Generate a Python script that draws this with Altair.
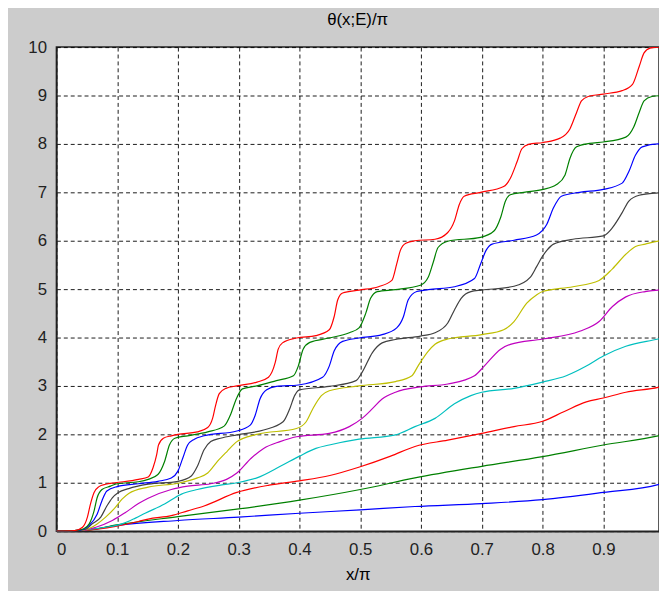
import altair as alt
import pandas as pd

# curve n ends at theta/pi = n ; (x/pi, theta/pi) pairs
c1 = [(0, 0), (0.03, 0.01), (0.05, 0.02), (0.1, 0.12), (0.2, 0.22), (0.3, 0.29), (0.4, 0.37),
      (0.5, 0.44), (0.59, 0.51), (0.7, 0.57), (0.8, 0.65), (0.9, 0.8), (0.99, 0.96), (1.0, 1.0)]
c2 = [(0, 0), (0.03, 0.01), (0.05, 0.02), (0.1, 0.13), (0.2, 0.3), (0.3, 0.46), (0.4, 0.64),
      (0.5, 0.86), (0.59, 1.1), (0.7, 1.34), (0.8, 1.54), (0.9, 1.78), (0.99, 1.97), (1.0, 2.0)]
c3 = [(0, 0), (0.03, 0.01), (0.05, 0.02), (0.097, 0.1), (0.135, 0.2), (0.151, 0.25), (0.189, 0.32),
      (0.216, 0.42), (0.243, 0.52), (0.297, 0.8), (0.35, 0.95), (0.4, 1.04), (0.45, 1.15), (0.5, 1.33),
      (0.55, 1.55), (0.59, 1.75), (0.644, 1.88), (0.7, 2.02), (0.753, 2.16), (0.8, 2.27), (0.834, 2.46),
      (0.872, 2.67), (0.9, 2.75), (0.937, 2.87), (0.99, 2.97), (1.0, 3.0)]
c4 = [(0, 0), (0.03, 0.01), (0.05, 0.03), (0.081, 0.08), (0.108, 0.15), (0.13, 0.27), (0.146, 0.37),
      (0.178, 0.56), (0.205, 0.76), (0.232, 0.86), (0.27, 0.95), (0.297, 1.0), (0.33, 1.1), (0.37, 1.35),
      (0.4, 1.55), (0.427, 1.71), (0.449, 1.78), (0.498, 1.9), (0.558, 1.99), (0.59, 2.16), (0.623, 2.33),
      (0.655, 2.63), (0.682, 2.8), (0.7, 2.87), (0.753, 2.95), (0.8, 3.08), (0.839, 3.21), (0.872, 3.41),
      (0.9, 3.62), (0.937, 3.82), (0.99, 3.97), (1.0, 4.0)]
c5 = [(0, 0), (0.03, 0.01), (0.05, 0.03), (0.065, 0.08), (0.092, 0.22), (0.113, 0.38), (0.135, 0.57),
      (0.151, 0.68), (0.189, 0.86), (0.216, 0.93), (0.254, 0.98), (0.28, 1.07), (0.297, 1.2), (0.32, 1.5),
      (0.341, 1.71), (0.368, 1.85), (0.395, 1.95), (0.449, 2.02), (0.482, 2.16), (0.503, 2.33),
      (0.52, 2.53), (0.536, 2.73), (0.558, 2.87), (0.599, 2.98), (0.644, 3.04), (0.688, 3.21),
      (0.704, 3.41), (0.731, 3.76), (0.747, 3.86), (0.8, 3.97), (0.861, 4.13), (0.893, 4.33),
      (0.915, 4.64), (0.937, 4.84), (0.969, 4.95), (0.99, 4.98), (1.0, 5.0)]
c6 = [(0, 0), (0.03, 0.01), (0.05, 0.04), (0.067, 0.15), (0.081, 0.29), (0.097, 0.49), (0.108, 0.66),
      (0.119, 0.78), (0.151, 0.91), (0.2, 0.99), (0.232, 1.1), (0.249, 1.2), (0.265, 1.44), (0.281, 1.65),
      (0.297, 1.85), (0.33, 2.0), (0.395, 2.12), (0.411, 2.26), (0.422, 2.53), (0.436, 2.8), (0.449, 2.9),
      (0.498, 3.0), (0.558, 3.09), (0.585, 3.21), (0.595, 3.41), (0.612, 3.72), (0.623, 3.86),
      (0.644, 3.97), (0.7, 4.06), (0.736, 4.16), (0.753, 4.33), (0.774, 4.71), (0.79, 4.88), (0.8, 4.95),
      (0.85, 5.05), (0.893, 5.18), (0.915, 5.42), (0.937, 5.72), (0.953, 5.88), (0.969, 5.93),
      (0.99, 5.99), (1.0, 6.0)]
c7 = [(0, 0), (0.03, 0.01), (0.048, 0.04), (0.059, 0.15), (0.073, 0.29), (0.083, 0.52), (0.092, 0.69),
      (0.102, 0.8), (0.119, 0.88), (0.151, 0.97), (0.2, 1.03), (0.222, 1.14), (0.232, 1.34),
      (0.243, 1.68), (0.254, 1.85), (0.27, 1.92), (0.297, 1.99), (0.341, 2.09), (0.373, 2.26),
      (0.384, 2.53), (0.392, 2.8), (0.4, 2.92), (0.449, 2.99), (0.493, 3.11), (0.503, 3.28), (0.52, 3.69),
      (0.536, 3.89), (0.558, 3.96), (0.599, 4.03), (0.623, 4.1), (0.644, 4.3), (0.655, 4.57),
      (0.666, 4.81), (0.682, 4.95), (0.7, 4.98), (0.753, 5.06), (0.78, 5.25), (0.79, 5.46), (0.799, 5.66),
      (0.807, 5.8), (0.818, 5.93), (0.85, 6.03), (0.9, 6.1), (0.915, 6.27), (0.931, 6.58), (0.942, 6.82),
      (0.959, 6.94), (0.99, 6.99), (1.0, 7.0)]
c8 = [(0, 0), (0.03, 0.01), (0.045, 0.04), (0.054, 0.12), (0.067, 0.35), (0.075, 0.63), (0.083, 0.83),
      (0.1, 0.92), (0.135, 0.98), (0.167, 1.03), (0.189, 1.1), (0.2, 1.24), (0.208, 1.51), (0.216, 1.78),
      (0.227, 1.9), (0.243, 1.97), (0.297, 2.07), (0.319, 2.19), (0.327, 2.39), (0.335, 2.73),
      (0.346, 2.92), (0.362, 2.99), (0.398, 3.02), (0.438, 3.18), (0.449, 3.41), (0.457, 3.72),
      (0.471, 3.92), (0.498, 3.99), (0.536, 4.06), (0.56, 4.2), (0.571, 4.43), (0.579, 4.78),
      (0.593, 4.95), (0.612, 4.99), (0.655, 5.05), (0.688, 5.22), (0.698, 5.52), (0.707, 5.8),
      (0.717, 5.93), (0.753, 6.01), (0.79, 6.12), (0.807, 6.34), (0.818, 6.68), (0.831, 6.92),
      (0.861, 7.0), (0.9, 7.06), (0.931, 7.19), (0.942, 7.43), (0.953, 7.77), (0.964, 7.94),
      (0.99, 8.0), (1.0, 8.0)]
c9 = [(0, 0), (0.03, 0.01), (0.045, 0.05), (0.054, 0.15), (0.062, 0.42), (0.067, 0.69), (0.075, 0.86),
      (0.089, 0.93), (0.1, 0.98), (0.135, 1.02), (0.151, 1.07), (0.167, 1.17), (0.178, 1.44),
      (0.186, 1.78), (0.195, 1.92), (0.216, 1.97), (0.249, 2.05), (0.276, 2.17), (0.287, 2.42),
      (0.295, 2.7), (0.306, 2.94), (0.33, 3.0), (0.362, 3.11), (0.39, 3.21), (0.398, 3.41), (0.406, 3.76),
      (0.417, 3.9), (0.449, 3.99), (0.482, 4.1), (0.498, 4.2), (0.509, 4.5), (0.517, 4.81), (0.528, 4.95),
      (0.558, 4.99), (0.599, 5.08), (0.612, 5.25), (0.62, 5.55), (0.628, 5.86), (0.644, 5.99),
      (0.698, 6.07), (0.72, 6.2), (0.731, 6.48), (0.739, 6.82), (0.747, 6.95), (0.769, 7.0),
      (0.801, 7.06), (0.823, 7.16), (0.837, 7.36), (0.845, 7.7), (0.856, 7.94), (0.877, 8.01),
      (0.9, 8.04), (0.937, 8.14), (0.95, 8.35), (0.959, 8.65), (0.967, 8.89), (0.98, 8.98), (1.0, 9.0)]
c10 = [(0, 0), (0.03, 0.01), (0.043, 0.08), (0.051, 0.29), (0.056, 0.56), (0.062, 0.8), (0.07, 0.92),
       (0.081, 0.97), (0.097, 1.0), (0.135, 1.07), (0.151, 1.12), (0.159, 1.31), (0.165, 1.58),
       (0.168, 1.78), (0.176, 1.92), (0.189, 1.97), (0.2, 2.0), (0.232, 2.05), (0.249, 2.14),
       (0.257, 2.33), (0.262, 2.6), (0.268, 2.84), (0.279, 2.95), (0.297, 3.0), (0.33, 3.08),
       (0.349, 3.18), (0.36, 3.48), (0.365, 3.76), (0.372, 3.89), (0.395, 3.99), (0.427, 4.04),
       (0.449, 4.16), (0.457, 4.43), (0.463, 4.78), (0.471, 4.92), (0.498, 4.98), (0.53, 5.05),
       (0.552, 5.18), (0.56, 5.52), (0.566, 5.8), (0.575, 5.95), (0.59, 6.0), (0.623, 6.03),
       (0.644, 6.17), (0.655, 6.41), (0.663, 6.75), (0.671, 6.92), (0.698, 7.0), (0.736, 7.12),
       (0.747, 7.29), (0.758, 7.63), (0.766, 7.9), (0.777, 7.99), (0.801, 8.03), (0.829, 8.12),
       (0.845, 8.31), (0.856, 8.65), (0.864, 8.89), (0.875, 8.98), (0.9, 9.03), (0.931, 9.1),
       (0.948, 9.23), (0.959, 9.6), (0.967, 9.88), (0.977, 9.98), (0.99, 10.0), (1.0, 10.0)]

curves = [c1, c2, c3, c4, c5, c6, c7, c8, c9, c10]
colors = ["#0000ff", "#008000", "#ff0000", "#00bfbf", "#bf00bf", "#bfbf00", "#404040",
          "#0000ff", "#008000", "#ff0000"]
x_ticks = [0, 0.1, 0.2, 0.3, 0.4, 0.5, 0.6, 0.7, 0.8, 0.9]
y_ticks = [0, 1, 2, 3, 4, 5, 6, 7, 8, 9, 10]

rows = []
for n, pts in enumerate(curves, start=1):
    for x, y in pts:
        rows.append({"x": x, "y": y, "n": n})
df = pd.DataFrame(rows)

FONT = "Liberation Sans"

chart = alt.Chart(df).mark_line(clip=True, strokeWidth=1.2, interpolate="monotone").encode(
    x=alt.X("x:Q", scale=alt.Scale(domain=[0, 0.9916], nice=False, zero=False),
            axis=alt.Axis(values=x_ticks, title="x/π",
                          labelExpr="datum.value == 0 ? '0' : format(datum.value, '.1f')")),
    y=alt.Y("y:Q", scale=alt.Scale(domain=[0, 10], nice=False),
            axis=alt.Axis(values=y_ticks, format="d", title=None)),
    color=alt.Color("n:N", scale=alt.Scale(domain=list(range(1, 11)), range=colors), legend=None),
    order=alt.Order("x:Q"),
).properties(
    width=610,
    height=490,
    background="#cccccc",
    padding={"left": 49, "top": 36, "right": 0, "bottom": 58},
    autosize=alt.AutoSizeParams(type="none"),
    title=alt.TitleParams(text="θ(x;E)/π", font=FONT, fontSize=17, fontWeight="normal",
                          color="#000000", anchor="middle", offset=9),
).configure_view(
    fill="white", stroke="#222222", strokeWidth=1.5
).configure_axis(
    labelFont=FONT, labelFontSize=17, labelColor="#222222",
    titleFont=FONT, titleFontSize=17, titleFontWeight="normal", titleColor="#000000",
    grid=True, gridColor="#000000", gridDash=[4, 3], gridWidth=1, gridOpacity=0.9,
    ticks=False, domainColor="#222222", domainWidth=1.5,
).configure_axisX(
    labelPadding=11, titlePadding=9
).configure_axisY(
    labelPadding=10
)

chart.save("out.html", embed_options={"renderer": "svg", "actions": False})
